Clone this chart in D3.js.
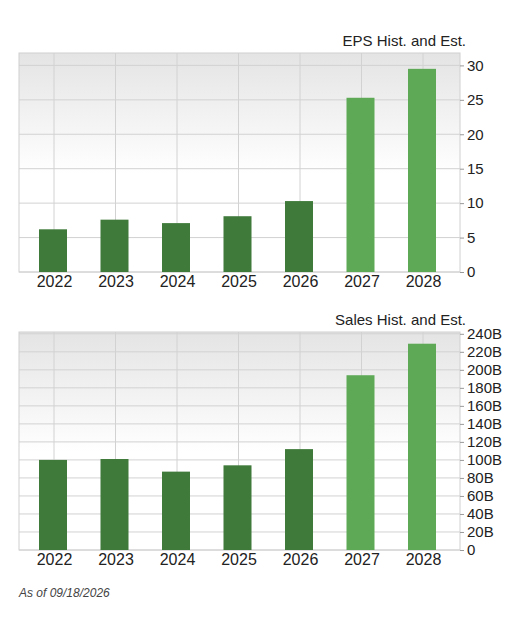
<!DOCTYPE html>
<html><head><meta charset="utf-8">
<script src="https://cdn.jsdelivr.net/npm/d3@7"></script>
<style>body{margin:0;background:#fff;font-family:"Liberation Sans",Arial,sans-serif}</style>
</head><body>
<svg id="c" width="527" height="618"></svg>
<script>
const years = ["2022","2023","2024","2025","2026","2027","2028"];
const estimate = [false,false,false,false,false,true,true];
const eps = [6.2,7.6,7.1,8.1,10.3,25.3,29.5];
const sales = [100,101,87,94,112,194,229];
const epsTicks = [0,5,10,15,20,25,30];
const salesTicks = [0,20,40,60,80,100,120,140,160,180,200,220,240];
const footnote = "As of 09/18/2026";

const svg = d3.select("#c");
const defs = svg.append("defs");
const g = defs.append("linearGradient").attr("id","bg").attr("x1",0).attr("y1",0).attr("x2",0).attr("y2",1);
g.append("stop").attr("offset","0%").attr("stop-color","#e4e4e4");
g.append("stop").attr("offset","55%").attr("stop-color","#ffffff");
g.append("stop").attr("offset","100%").attr("stop-color","#ffffff");

function panel(title, vals, ticks, top, bottom, maxV, fmt, titleY){
  const L=19, R=460;
  const x = d3.scalePoint().domain(years).range([54,423]);
  const y = d3.scaleLinear().domain([0,maxV]).range([bottom, top]);
  const gg = svg.append("g");
  gg.append("rect").attr("x",L).attr("y",top).attr("width",R-L).attr("height",bottom-top)
    .attr("fill","url(#bg)").attr("stroke","#d0d0d0");
  gg.selectAll(".h").data(ticks).join("line").attr("x1",L).attr("x2",R)
    .attr("y1",d=>y(d)).attr("y2",d=>y(d)).attr("stroke","#d2d2d2");
  gg.selectAll(".v").data(years).join("line").attr("x1",d=>x(d)).attr("x2",d=>x(d))
    .attr("y1",top).attr("y2",bottom).attr("stroke","#d2d2d2");
  gg.selectAll(".b").data(years).join("rect")
    .attr("x",d=>x(d)-15).attr("width",28)
    .attr("y",(d,i)=>y(vals[i])).attr("height",(d,i)=>bottom-y(vals[i]))
    .attr("fill",(d,i)=>estimate[i]?"#5ea955":"#3f7a3a");
  const ax = d3.axisRight(y).tickValues(ticks).tickSize(4).tickFormat(fmt);
  const a = gg.append("g").attr("transform",`translate(${R},0)`).call(ax);
  a.select(".domain").remove();
  a.selectAll("line").attr("stroke","#999");
  a.selectAll("text").attr("font-size",15).attr("fill","#222").attr("font-family","Liberation Sans, Arial, sans-serif").attr("x",7);
  const bx = d3.axisBottom(x).tickSize(0);
  const b = gg.append("g").attr("transform",`translate(0,${bottom})`).call(bx);
  b.select(".domain").remove();
  b.selectAll("text").attr("font-size",16).attr("fill","#222").attr("dy","0.85em").attr("y",1).attr("font-family","Liberation Sans, Arial, sans-serif");
  gg.append("text").attr("x",466).attr("y",titleY).attr("text-anchor","end")
    .attr("font-size",15).attr("fill","#222").text(title);
}
panel("EPS Hist. and Est.", eps, epsTicks, 53, 272, 31.8, d=>d, 46);
panel("Sales Hist. and Est.", sales, salesTicks, 332, 550, 242, d=>d===0?"0":d+"B", 325);
svg.append("text").attr("x",19).attr("y",597).attr("font-size",12).attr("font-style","italic")
  .attr("fill","#444").text(footnote);
</script>
</body></html>
